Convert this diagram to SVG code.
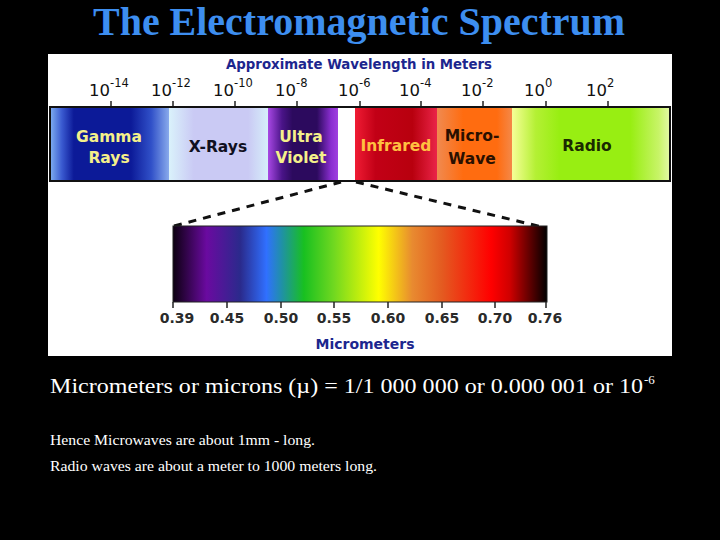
<svg xmlns="http://www.w3.org/2000/svg" width="720" height="540" viewBox="0 0 720 540">
<style>
.tick{stroke:#222;stroke-width:1.5}
.exp{font-family:"DejaVu Sans",Verdana,sans-serif;fill:#111}
.base{font-size:16.5px}
.sup{font-size:11.5px}
.band{font-family:"DejaVu Sans",Verdana,sans-serif;font-weight:bold;font-size:15.5px;text-anchor:middle}
.um{font-family:"DejaVu Sans",Verdana,sans-serif;font-weight:bold;font-size:14px;fill:#2a2a2a;text-anchor:middle}
.blue{font-family:"DejaVu Sans",Verdana,sans-serif;font-weight:bold;font-size:14px;fill:#1c268e}
.cap{font-family:"Liberation Serif","Times New Roman",serif;fill:#fff}
.dash{stroke:#111;stroke-width:3;stroke-dasharray:8 7;fill:none}
</style>
<defs>
<linearGradient id="gGamma" gradientUnits="userSpaceOnUse" x1="50" y1="0" x2="169" y2="0">
<stop offset="0" stop-color="#80b0f2"/><stop offset="0.1" stop-color="#3a5ad0"/><stop offset="0.2" stop-color="#0c1a98"/><stop offset="0.68" stop-color="#0c1a98"/><stop offset="0.85" stop-color="#3050c8"/><stop offset="1" stop-color="#88aaec"/>
</linearGradient>
<linearGradient id="gX" gradientUnits="userSpaceOnUse" x1="169" y1="0" x2="268" y2="0">
<stop offset="0" stop-color="#daf2fb"/><stop offset="0.25" stop-color="#cacaf4"/><stop offset="0.8" stop-color="#cacaf4"/><stop offset="1" stop-color="#d6eefa"/>
</linearGradient>
<linearGradient id="gUV" gradientUnits="userSpaceOnUse" x1="268" y1="0" x2="338" y2="0">
<stop offset="0" stop-color="#a848e4"/><stop offset="0.2" stop-color="#4a1488"/><stop offset="0.35" stop-color="#2c0a5e"/><stop offset="0.7" stop-color="#2c0a5e"/><stop offset="0.9" stop-color="#8a2ed0"/><stop offset="1" stop-color="#a040e0"/>
</linearGradient>
<linearGradient id="gIR" gradientUnits="userSpaceOnUse" x1="355" y1="0" x2="437" y2="0">
<stop offset="0" stop-color="#f01c34"/><stop offset="0.25" stop-color="#c20016"/><stop offset="0.7" stop-color="#b8000e"/><stop offset="1" stop-color="#ea2448"/>
</linearGradient>
<linearGradient id="gMW" gradientUnits="userSpaceOnUse" x1="437" y1="0" x2="512" y2="0">
<stop offset="0" stop-color="#f08a50"/><stop offset="0.35" stop-color="#ff6c10"/><stop offset="0.8" stop-color="#ff6c10"/><stop offset="1" stop-color="#f48848"/>
</linearGradient>
<linearGradient id="gRadio" gradientUnits="userSpaceOnUse" x1="512" y1="0" x2="670" y2="0">
<stop offset="0" stop-color="#f6ff98"/><stop offset="0.15" stop-color="#b4f034"/><stop offset="0.3" stop-color="#98ee12"/><stop offset="0.75" stop-color="#98ee12"/><stop offset="0.93" stop-color="#c8f468"/><stop offset="1" stop-color="#e4f8a8"/>
</linearGradient>
<linearGradient id="gVis" gradientUnits="userSpaceOnUse" x1="173" y1="0" x2="547" y2="0">
<stop offset="0" stop-color="#0c0010"/><stop offset="0.09" stop-color="#6a0aa0"/><stop offset="0.18" stop-color="#2a2a8c"/><stop offset="0.25" stop-color="#3070ff"/><stop offset="0.29" stop-color="#2090a8"/><stop offset="0.35" stop-color="#18c020"/><stop offset="0.43" stop-color="#70d820"/><stop offset="0.55" stop-color="#ffff00"/><stop offset="0.64" stop-color="#e88a30"/><stop offset="0.72" stop-color="#e45a20"/><stop offset="0.85" stop-color="#ff0000"/><stop offset="0.9" stop-color="#d00000"/><stop offset="1" stop-color="#000000"/>
</linearGradient>
</defs>
<rect width="720" height="540" fill="#000"/>
<g id="title">
<text x="93" y="35" font-family="Liberation Serif,'Times New Roman',serif" font-weight="bold" font-size="40" fill="#3d8ef0" textLength="532" lengthAdjust="spacingAndGlyphs">The Electromagnetic Spectrum</text>
</g>
<g id="panel">
<rect x="48" y="54" width="624" height="302" fill="#fff"/>
</g>
<g id="wavelength-scale">
<text class="blue" x="226" y="69" textLength="266" lengthAdjust="spacingAndGlyphs">Approximate Wavelength in Meters</text>
<g class="tick">
<line x1="111" y1="101" x2="111" y2="107"/><line x1="173" y1="101" x2="173" y2="107"/><line x1="235" y1="101" x2="235" y2="107"/><line x1="297" y1="101" x2="297" y2="107"/><line x1="360" y1="101" x2="360" y2="107"/><line x1="421" y1="101" x2="421" y2="107"/><line x1="483" y1="101" x2="483" y2="107"/><line x1="546" y1="101" x2="546" y2="107"/><line x1="608" y1="101" x2="608" y2="107"/>
</g>
<text class="exp base" x="89" y="96">10</text><text class="exp sup" x="110" y="87">-14</text>
<text class="exp base" x="151" y="96">10</text><text class="exp sup" x="172" y="87">-12</text>
<text class="exp base" x="213" y="96">10</text><text class="exp sup" x="234" y="87">-10</text>
<text class="exp base" x="275" y="96">10</text><text class="exp sup" x="296" y="87">-8</text>
<text class="exp base" x="338" y="96">10</text><text class="exp sup" x="359" y="87">-6</text>
<text class="exp base" x="399" y="96">10</text><text class="exp sup" x="420" y="87">-4</text>
<text class="exp base" x="461" y="96">10</text><text class="exp sup" x="482" y="87">-2</text>
<text class="exp base" x="524" y="96">10</text><text class="exp sup" x="545" y="87">0</text>
<text class="exp base" x="586" y="96">10</text><text class="exp sup" x="607" y="87">2</text>
</g>
<g id="band-gamma">
<rect x="50" y="107" width="119" height="74" fill="url(#gGamma)"/>
<text class="band" x="109" y="142" fill="#f4f08a">Gamma</text>
<text class="band" x="109" y="163" fill="#f4f08a">Rays</text>
</g>
<g id="band-xray">
<rect x="169" y="107" width="99" height="74" fill="url(#gX)"/>
<text class="band" x="218" y="152" fill="#101020">X-Rays</text>
</g>
<g id="band-uv">
<rect x="268" y="107" width="70" height="74" fill="url(#gUV)"/>
<text class="band" x="301" y="142" fill="#f4f08a">Ultra</text>
<text class="band" x="301" y="163" fill="#f4f08a">Violet</text>
</g>
<g id="band-visible">
<rect x="338" y="107" width="17" height="74" fill="#fff"/>
</g>
<g id="band-infrared">
<rect x="355" y="107" width="82" height="74" fill="url(#gIR)"/>
<text class="band" x="396" y="151" fill="#ffc040">Infrared</text>
</g>
<g id="band-microwave">
<rect x="437" y="107" width="75" height="74" fill="url(#gMW)"/>
<text class="band" x="472" y="141" fill="#2a1000">Micro-</text>
<text class="band" x="472" y="164" fill="#2a1000">Wave</text>
</g>
<g id="band-radio">
<rect x="512" y="107" width="158" height="74" fill="url(#gRadio)"/>
<text class="band" x="587" y="151" fill="#1a2a00">Radio</text>
</g>
<rect x="50" y="107" width="620" height="74" fill="none" stroke="#111" stroke-width="2"/>
<g id="connectors">
<line class="dash" x1="174" y1="226" x2="341" y2="182"/>
<line class="dash" x1="356" y1="182" x2="542" y2="227"/>
</g>
<g id="visible-spectrum">
<rect x="173" y="226" width="374" height="76" fill="url(#gVis)" stroke="#222" stroke-width="1"/>
<g class="tick">
<line x1="173" y1="302" x2="173" y2="308"/><line x1="227" y1="302" x2="227" y2="308"/><line x1="281" y1="302" x2="281" y2="308"/><line x1="334" y1="302" x2="334" y2="308"/><line x1="388" y1="302" x2="388" y2="308"/><line x1="442" y1="302" x2="442" y2="308"/><line x1="495" y1="302" x2="495" y2="308"/><line x1="546" y1="302" x2="546" y2="308"/>
</g>
<text class="um" x="177" y="323">0.39</text>
<text class="um" x="227" y="323">0.45</text>
<text class="um" x="281" y="323">0.50</text>
<text class="um" x="334" y="323">0.55</text>
<text class="um" x="388" y="323">0.60</text>
<text class="um" x="442" y="323">0.65</text>
<text class="um" x="495" y="323">0.70</text>
<text class="um" x="545" y="323">0.76</text>
<text class="blue" x="365" y="349" text-anchor="middle">Micrometers</text>
</g>
<g id="captions">
<text class="cap" x="50" y="393" font-size="22" textLength="593" lengthAdjust="spacingAndGlyphs">Micrometers or microns (µ) = 1/1 000 000 or 0.000 001 or 10</text>
<text class="cap" x="644" y="384" font-size="13">-6</text>
<text class="cap" x="50" y="445" font-size="15" textLength="265" lengthAdjust="spacingAndGlyphs">Hence Microwaves are about 1mm - long.</text>
<text class="cap" x="50" y="471" font-size="15" textLength="327" lengthAdjust="spacingAndGlyphs">Radio waves are about a meter to 1000 meters long.</text>
</g>
</svg>
